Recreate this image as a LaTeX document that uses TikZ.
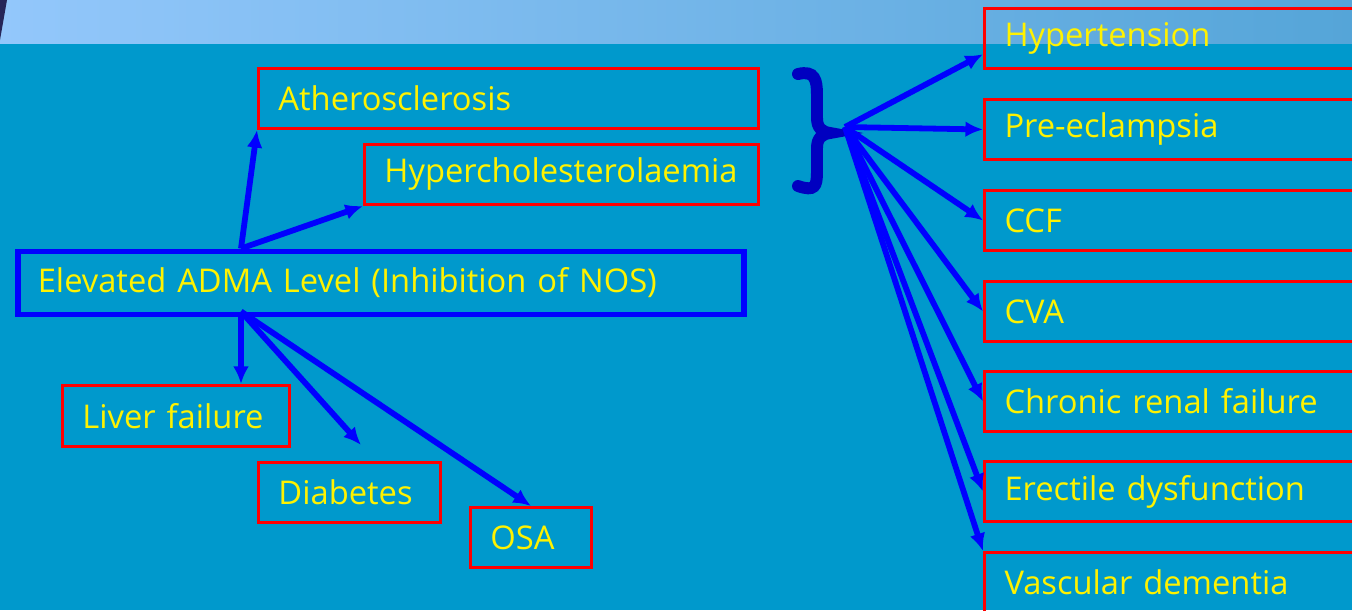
\documentclass[tikz,border=0pt]{standalone}
\usepackage{fontspec}
\setmainfont{Open Sans}
\usetikzlibrary{arrows.meta,calc}

\definecolor{slide}{HTML}{0099CC}
\definecolor{bandl}{HTML}{93C7FB}
\definecolor{bandr}{HTML}{55A5D8}
\definecolor{bracec}{HTML}{0000C0}

\begin{document}
\begin{tikzpicture}[thick,
    box/.style={draw=red, line width=1.7pt, text=yellow, anchor=north west,
                inner xsep=0.4cm, inner ysep=0pt, minimum height=1.2cm,
                align=left, font=\fontsize{18.6}{20}\selectfont},
    mainbox/.style={box, draw=blue, line width=3.2pt, minimum height=1.26cm},
    link/.style={draw=blue, line width=3.3pt, -{Latex[length=10pt,width=9pt]}}]

  % background and title band
  \useasboundingbox (0,0) rectangle (27.04,-12.2);
  \clip (0,0) rectangle (27.04,-12.2);
  \fill[slide] (0,0) rectangle (27.04,-12.2);
  \shade[left color=bandl, right color=bandr] (0,0) rectangle (27.04,-0.86);
  \fill[gray!60!blue!50!black] (0,0) -- (0.14,0) -- (0,-0.8) -- cycle;

  % left side
  \node[mainbox, text width=13.72cm] (adma) at (0.30,-4.97) {Elevated ADMA Level (Inhibition of NOS)};
  \node[box, text width=9.2cm] (ath) at (5.14,-1.34) {Atherosclerosis};
  \node[box, text width=7.08cm] (chol) at (7.26,-2.86) {Hypercholesterolaemia};
  \node[box, text width=3.74cm, minimum height=1.22cm] (liver) at (1.22,-7.68) {Liver failure};
  \node[box, text width=2.84cm] (diab) at (5.14,-9.22) {Diabetes};
  \node[box, text width=1.62cm] (osa) at (9.38,-10.12) {OSA};

  \coordinate (admatop) at (4.82,-4.97);
  \coordinate (admabot) at (4.82,-6.23);
  \coordinate (diabtip) at (7.22,-8.9);

  \path[link] (admatop) -- (ath.south west);
  \path[link] (admatop) -- (chol.south west);
  \path[link] (admabot) -- (admabot |- liver.north);
  \path[link] (admabot) -- (diabtip);
  \path[link] (admabot) -- (osa.north);

  % brace
  \draw[bracec, line width=6.8pt, line cap=round]
    (15.96,-1.48) .. controls (16.3,-1.4) and (16.34,-1.6) .. (16.34,-1.9)
    -- (16.34,-2.36) .. controls (16.34,-2.56) and (16.44,-2.64) .. (16.6,-2.66)
    .. controls (16.44,-2.68) and (16.34,-2.76) .. (16.34,-2.96)
    -- (16.34,-3.44) .. controls (16.34,-3.72) and (16.3,-3.84) .. (15.96,-3.72);

  % right side
  \node[box, text width=7.6cm] (hyper) at (19.66,-0.14) {Hypertension};
  \node[box, text width=7.6cm] (pre) at (19.66,-1.96) {Pre-eclampsia};
  \node[box, text width=7.6cm] (ccf) at (19.66,-3.78) {CCF};
  \node[box, text width=7.6cm] (cva) at (19.66,-5.60) {CVA};
  \node[box, text width=7.6cm] (crf) at (19.66,-7.40) {Chronic renal failure};
  \node[box, text width=7.6cm] (ed) at (19.66,-9.20) {Erectile dysfunction};
  \node[box, text width=7.6cm] (vd) at (19.66,-11.02) {Vascular dementia};

  \coordinate (fan) at (16.9,-2.54);

  \path[link] (fan) -- ($(hyper.west)!0.5!(hyper.south west)$);
  \path[link] (fan) -- (pre.west);
  \path[link] (fan) -- (ccf.west);
  \path[link] (fan) -- (cva.west);
  \path[link] (fan) -- (crf.west);
  \path[link] (fan) -- (ed.west);
  \path[link] (fan) -- (vd.north west);
\end{tikzpicture}
\end{document}
